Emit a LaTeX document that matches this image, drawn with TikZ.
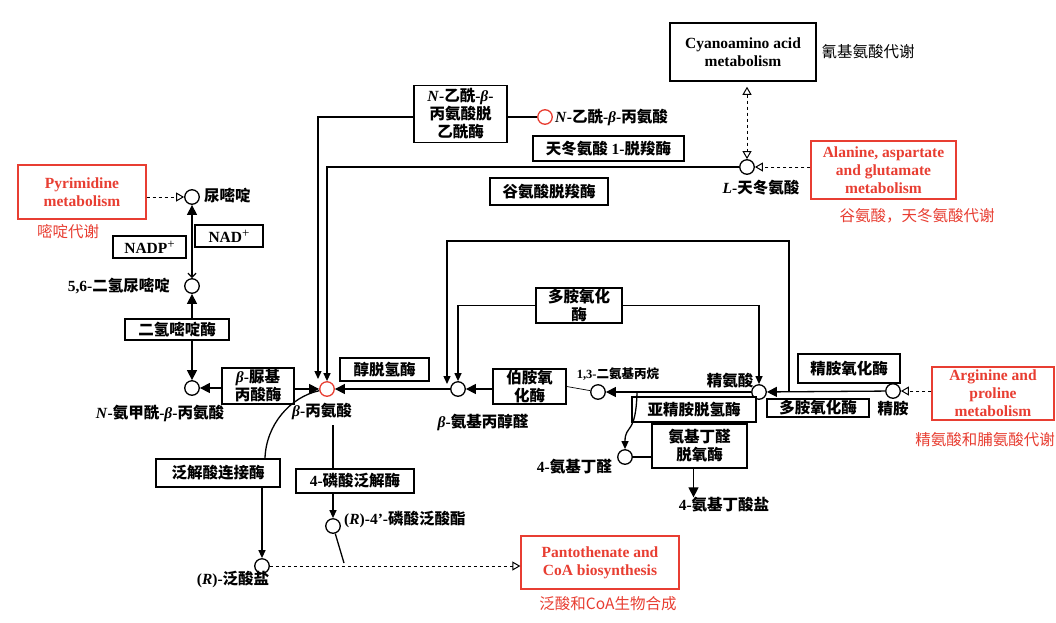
\documentclass[tikz,border=0pt]{standalone}
\usepackage{fontspec}
\setmainfont{Liberation Serif}
\newfontfamily\zhb{Noto Sans CJK SC Bold}
\newfontfamily\zhr{Noto Sans CJK SC}
\usetikzlibrary{arrows.meta,calc}
\definecolor{kred}{RGB}{232,62,50}
\newcommand\zh[1]{{\zhb #1}}
\newcommand\bigplus{\raisebox{5pt}{\fontsize{13}{13}\selectfont\mdseries +}}
\begin{document}
\begin{tikzpicture}[x=1pt,y=-1pt,
  font=\fontsize{15.5}{18}\selectfont\bfseries,
  box/.style={draw, line width=1.5pt, fill=white, inner sep=1pt, align=center},
  rbox/.style={draw=kred, line width=1.3pt, fill=white, text=kred, align=center, inner sep=1pt},
  cpd/.style={circle, draw, line width=1.3pt, fill=white, minimum size=14.5pt, inner sep=0pt},
  rcpd/.style={cpd, draw=kred},
  lbl/.style={inner sep=0pt, align=center},
  rlbl/.style={inner sep=0pt, text=kred, font=\fontsize{15.5}{18}\selectfont\zhr},
  conn/.style={line width=1.3pt},
  dash2/.style={line width=1pt, dash pattern=on 3.5pt off 2.5pt},
  fa/.style={-{Triangle[length=10pt,width=10pt]}},
  sa/.style={-{Triangle[length=8pt,width=7pt]}},
  oa/.style={-{Triangle[open,length=8pt,width=9pt]}},
]
\fill[white] (0,0) rectangle (1056,622);
\useasboundingbox (0,0) rectangle (1056,622);

% ---- left: pyrimidine
\node[rbox, minimum width=128pt, minimum height=54pt] (pyr) at (82,192) {Pyrimidine\\metabolism};
\node[rlbl] (pyrl) at (68,232) {嘧啶代谢};
\node[cpd] (cura) at (192,197) {};
\node[lbl, anchor=west] (ural) at (204,196) {\zh{尿嘧啶}};
\node[box, minimum width=73pt, minimum height=22pt] (nadp) at (149.5,247) {NADP\bigplus};
\node[box, minimum width=68pt, minimum height=22pt] (nad) at (229,236) {NAD\bigplus};
\node[cpd] (cdhu) at (192,286) {};
\node[lbl, anchor=east] (dhul) at (170,286) {5,6-\zh{二氢尿嘧啶}};
\node[box, minimum width=104pt, minimum height=21pt] (dhp) at (177,329.5) {\zh{二氢嘧啶酶}};
\node[cpd] (cncb) at (192,388) {};
\node[lbl] (ncbl) at (160,413) {\textit{N}-\zh{氨甲酰}-\textit{β}-\zh{丙氨酸}};
\node[box, minimum width=72pt, minimum height=36pt] (bup) at (258,386) {\textit{β}-\zh{脲基}\\\zh{丙酸酶}};

% ---- beta-alanine and top
\node[rcpd] (cbala) at (327,389) {};
\node[lbl] (balal) at (322,411) {\textit{β}-\zh{丙氨酸}};
\node[box, minimum width=93pt, minimum height=57pt] (nacet) at (460.5,114) {\textit{N}-\zh{乙酰}-\textit{β}-\\\zh{丙氨酸脱}\\\zh{乙酰酶}};
\node[rcpd] (cnacb) at (545,117) {};
\node[lbl, anchor=west] (nacbl) at (555,117) {\textit{N}-\zh{乙酰}-\textit{β}-\zh{丙氨酸}};
\node[box, minimum width=151pt, minimum height=25pt] (asp1) at (608.5,148.5) {\zh{天冬氨酸} 1-\zh{脱羧酶}};
\node[box, minimum width=118pt, minimum height=27pt] (glu) at (549,191.5) {\zh{谷氨酸脱羧酶}};
\node[box, minimum width=146pt, minimum height=58pt] (cyano) at (743,52) {Cyanoamino acid\\metabolism};
\node[lbl, font=\fontsize{15.5}{18}\selectfont\zhr] (cyanol) at (868,52) {氰基氨酸代谢};
\node[cpd] (clasp) at (747,167) {};
\node[lbl] (laspl) at (761,188) {\textit{L}-\zh{天冬氨酸}};
\node[rbox, minimum width=145pt, minimum height=58pt] (ala) at (883.5,170) {Alanine, aspartate\\and glutamate\\metabolism};
\node[rlbl] (alal) at (917,216) {谷氨酸，天冬氨酸代谢};

% ---- middle
\node[box, minimum width=89pt, minimum height=23pt] (adh) at (384.5,369.5) {\zh{醇脱氢酶}};
\node[cpd] (capal) at (458,389) {};
\node[lbl] (apall) at (483,422) {\textit{β}-\zh{氨基丙醇醛}};
\node[box, minimum width=86pt, minimum height=35pt] (pao1) at (579,305.5) {\zh{多胺氧化}\\\zh{酶}};
\node[box, minimum width=73pt, minimum height=35pt] (paop) at (529.5,386.5) {\zh{伯胺氧}\\\zh{化酶}};
\node[cpd] (cdap) at (598,392) {};
\node[lbl, font=\fontsize{12.5}{14}\selectfont\bfseries] (dapl) at (618,374) {1,3-\zh{二氨基丙烷}};
\node[cpd] (carg) at (759,392) {};
\node[lbl] (argl) at (730,381) {\zh{精氨酸}};
\node[box, minimum width=124pt, minimum height=25pt] (spd) at (694,409.5) {\zh{亚精胺脱氢酶}};
\node[box, minimum width=95pt, minimum height=44pt] (abald) at (699.5,446) {\zh{氨基丁醛}\\\zh{脱氧酶}};
\node[cpd] (cgabal) at (625,457) {};
\node[lbl, anchor=east] (gaball) at (612,467) {4-\zh{氨基丁醛}};
\node[lbl] (gabal) at (724,505) {4-\zh{氨基丁酸盐}};
\node[box, minimum width=102pt, minimum height=18pt] (pao2) at (818,408) {\zh{多胺氧化酶}};
\node[box, minimum width=102pt, minimum height=29pt] (smo) at (849,368.5) {\zh{精胺氧化酶}};
\node[cpd] (cspm) at (893,391) {};
\node[lbl] (spml) at (893,409) {\zh{精胺}};
\node[rbox, minimum width=122pt, minimum height=53pt] (arg) at (993,393.5) {Arginine and\\proline\\metabolism};
\node[rlbl] (argll) at (985,440) {精氨酸和脯氨酸代谢};

% ---- bottom
\node[box, minimum width=124pt, minimum height=28pt] (panlig) at (218,473) {\zh{泛解酸连接酶}};
\node[box, minimum width=118pt, minimum height=24pt] (pank) at (355,481) {4-\zh{磷酸泛解酶}};
\node[cpd] (cppan) at (333,526) {};
\node[lbl, anchor=west] (ppanl) at (344,519) {(\textit{R})-4’-\zh{磷酸泛酸酯}};
\node[cpd] (cpant) at (262,566) {};
\node[lbl] (pantl) at (233,579) {(\textit{R})-\zh{泛酸盐}};
\node[rbox, minimum width=158pt, minimum height=53pt] (pant) at (600,562.5) {Pantothenate and\\CoA biosynthesis};
\node[rlbl] (pantll) at (608,604) {泛酸和CoA生物合成};

% ---- connectors
\draw[dash2, oa] (pyr.east |- cura) -- (cura);
\draw[conn, {Straight Barb[length=4pt,width=8pt]}-{Triangle[length=10pt,width=10pt]}] (cdhu) -- (cura);
\draw[conn, fa] (dhp.north -| cdhu) -- (cdhu);
\draw[conn, fa] (dhp.south -| cncb) -- (cncb);
\draw[conn, fa] (bup.west |- cncb) -- (cncb);
\draw[conn, fa] (bup.east |- cbala) -- (cbala);
\coordinate (bin1) at ($(cbala)+(-9,-10)$);
\draw[conn, sa] (nacet.west |- cnacb) -| (bin1);
\draw[conn] (nacet.east |- cnacb) -- (cnacb);
\draw[conn, sa] (clasp) -| (cbala);
\draw[dash2, {Triangle[open,length=8pt,width=9pt]}-{Triangle[open,length=8pt,width=9pt]}, shorten <=5pt] (cyano.south -| clasp) -- (clasp);
\draw[dash2, oa] (ala.west |- clasp) -- (clasp);
\draw[conn, fa] (capal) -- (cbala);
\draw[conn, fa] (paop.west |- capal) -- (capal);
\draw[line width=0.7pt] (paop.east) -- (cdap);
\draw[conn, fa] (carg) -- (cdap);
\draw[conn, sa] (pao1.west) -| (capal);
\draw[conn, sa] (pao1.east) -| (carg);
\coordinate (lp) at (789,392);
\coordinate (ain) at ($(capal)+(-11,-5)$);
\draw[conn, sa] (lp) -- ++(0,-151) -| (ain);
\draw[conn, fa] (cspm) -- (carg);
\draw[dash2, oa] (arg.west |- cspm) -- (cspm);
\coordinate (spds) at (637,392);
\draw[conn, sa] (spds) .. controls (636,436) and (625,424) .. (cgabal);
\draw[conn] (cgabal) -- (abald.west |- cgabal);
\coordinate (abs) at ($(abald.south)+(-6,0)$);
\draw[conn, fa] (abs) -- (abs |- gabal.north);
\coordinate (bdown) at (333,425);
\draw[conn] (bdown) -- (bdown |- pank.north);
\draw[conn, sa] (cppan |- pank.south) -- (cppan);
\coordinate (pj) at (344,563);
\draw[conn] (cppan) -- (pj);
\coordinate (pls) at ($(panlig.north)+(47,0)$);
\draw[conn] (pls) .. controls (266,425) and (290,397) .. (cbala);
\draw[conn, sa] (cpant |- panlig.south) -- (cpant);
\draw[dash2, oa] (cpant) -- (pant.west |- cpant);
\end{tikzpicture}
\end{document}
